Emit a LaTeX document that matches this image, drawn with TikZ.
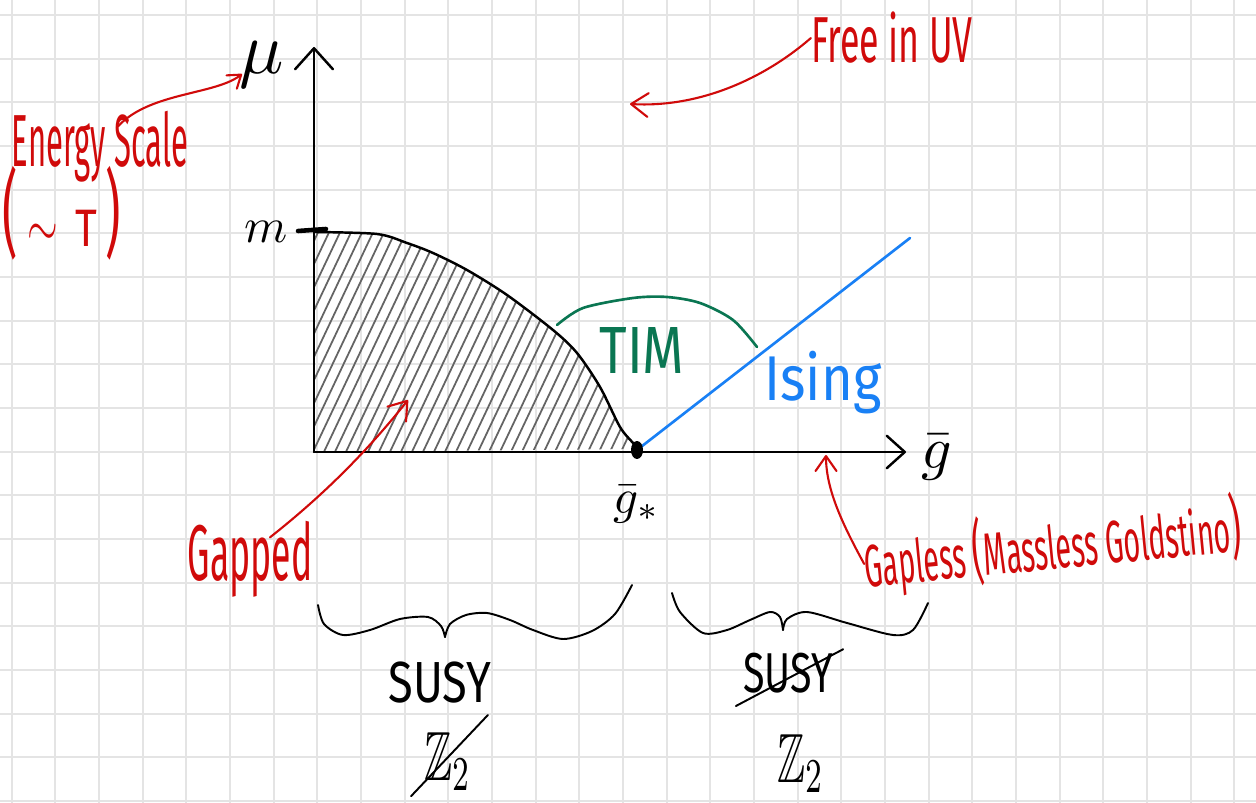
\documentclass[tikz,border=0pt]{standalone}
\usepackage{amssymb}
\usepackage{graphicx}
\usepackage{fontspec}
\newfontfamily\handfont{Fira Sans}
\usetikzlibrary{arrows.meta,positioning}
\definecolor{penred}{RGB}{208,10,10}
\definecolor{pengreen}{RGB}{10,118,82}
\definecolor{penblue}{RGB}{25,128,245}
\definecolor{gridgray}{RGB}{228,228,228}
\definecolor{hatchgray}{RGB}{100,100,100}
\newcommand\handw[2]{\scalebox{#1}[1]{#2}}

\begin{document}
\begin{tikzpicture}[x=0.02cm,y=-0.02cm,
  gridline/.style={gridgray, line width=1.1pt},
  ink/.style={line width=1.4pt, line cap=round, line join=round},
  thinink/.style={line width=1.1pt, line cap=round, line join=round},
  hatch/.style={hatchgray, line width=1pt, line cap=round},
  pen/.style={penred, line width=1.2pt, line cap=round, line join=round},
  hand/.style={font=\handfont\fontsize{#1}{#1}\selectfont, inner sep=0pt, anchor=base},
  symb/.style={inner sep=0pt, anchor=base},
  axisarr/.style={-{Straight Barb[length=#1,width=1.8*#1,round]}},
  penarr/.style={-{Straight Barb[length=#1,width=1.4*#1,round]}}
]
\fill[white] (0,0) rectangle (1256,803);
\useasboundingbox (0,0) rectangle (1256,803);
% squared paper
\foreach \k in {0,...,28} \draw[gridline] ({11.7+43.66*\k},0) -- ({11.7+43.66*\k},803);
\foreach \k in {0,...,18} \draw[gridline] (0,{15+43.66*\k}) -- (1256,{15+43.66*\k});

\coordinate (O) at (314,452);
\coordinate (ytop) at (314,47);
\coordinate (xend) at (906,452);
\coordinate (gs) at (637,450);
\coordinate (isingend) at (910,238);
\coordinate (uvtip) at (630,104);
\coordinate (entip) at (242,74);
\coordinate (gaptip) at (408,400);
\coordinate (gltip) at (826,455);

% gapped region
\begin{scope}
\clip (O) -- (314,232) -- plot[smooth] coordinates {(314,232) (377,234) (407,243) (433,253) (467,270) (507,295) (553,330) (577,353) (600,387) (620,427) (633,443) (637,449)} -- cycle;
\foreach \s in {190,201,...,640} \draw[hatch] (\s,456) -- ++(110,-232);
\end{scope}
\draw[ink] plot[smooth] coordinates {(314,232) (377,234) (407,243) (433,253) (467,270) (507,295) (553,330) (577,353) (600,387) (620,427) (633,443) (637,449)};

% axes
\draw[ink,axisarr=0.42cm] (O) -- (ytop);
\draw[ink,axisarr=0.36cm] (O) -- (xend);
\draw[ink,line width=2.6pt] (298,231) -- (326,229);
\node[symb] (mulab) at (262,74) {\scalebox{4.2}{$\mu$}};
\node[symb] (mlab) at (266,243) {\scalebox{2.8}{$m$}};
\node[symb] (gbar) at (937,468) {\scalebox{3.4}{$\bar g$}};

% TIM and Ising
\draw[pengreen,line width=1.5pt,line cap=round] plot[smooth] coordinates {(557,325) (583,308) (633,298) (667,297) (700,303) (733,320) (757,347)};
\node[hand=38,text=pengreen] (tim) at (642,374) {\handw{0.8}{TIM}};
\draw[penblue,line width=1.5pt,line cap=round] (gs) -- (isingend);
\node[hand=36,text=penblue] (ising) at (823,400) {\handw{0.86}{Ising}};
\fill (gs) ellipse [x radius=0.12cm, y radius=0.18cm];
\node[symb,below=0.7cm of gs] (gstar) {\scalebox{2.8}{$\bar g_*$}};

% red notes
\node[hand=37,text=penred] (freeuv) at (892,63) {\handw{0.55}{Free in UV}};
\node[hand=42,text=penred] (energy) at (100,167) {\handw{0.42}{Energy Scale}};
\node[hand=30,text=penred] (temp) at (62,247) {{\fontsize{54}{54}\selectfont\handw{0.5}{(}}\,\scalebox{0.9}[1.4]{$\sim$}\,\,\handw{0.8}{T}\,{\fontsize{54}{54}\selectfont\handw{0.5}{)}}};
\node[hand=45,text=penred] (gapped) at (250,580) {\handw{0.45}{Gapped}};
\node[hand=34,text=penred,rotate=5.5] (gapless) at (1055,569) {\handw{0.48}{Gapless {\fontsize{40}{40}\selectfont(}Massless Goldstino{\fontsize{40}{40}\selectfont)}}};
\draw[pen,penarr=0.34cm] (freeuv.west) .. controls (765,78) and (700,108) .. (uvtip);
\draw[pen,penarr=0.24cm] ([xshift=0.36cm,yshift=-0.3cm]energy.north) .. controls (150,92) and (215,95) .. (entip);
\draw[pen,penarr=0.34cm] ([xshift=0.4cm,yshift=-0.34cm]gapped.north) .. controls (330,490) and (372,445) .. (gaptip);
\draw[pen,penarr=0.3cm] (gapless.west) .. controls (843,525) and (826,490) .. (gltip);

% braces and symmetries
\draw[thinink] plot[smooth] coordinates {(318,605) (324,624) (343,635) (370,630) (400,619) (428,617) (441,626) (445,637)};
\draw[thinink] plot[smooth] coordinates {(445,637) (450,624) (466,615) (487,613) (510,620) (533,630) (563,639) (592,631) (615,614) (632,585)};
\draw[thinink] plot[smooth] coordinates {(672,593) (680,612) (703,633) (727,630) (750,620) (770,612) (780,617) (783,630)};
\draw[thinink] plot[smooth] coordinates {(783,630) (787,619) (807,612) (847,623) (893,635) (913,630) (928,603)};
\node[hand=33] (susyL) at (440,702) {\handw{0.78}{SUSY}};
\node[hand=32] (susyR) at (788,692) {\handw{0.7}{SUSY}};
\node[symb,below=0.58cm of susyL,xshift=0.16cm] (zL) {\scalebox{2.4}[3.96]{$\mathbb{Z}_2$}};
\node[symb,below=0.82cm of susyR,xshift=0.26cm] (zR) {\scalebox{2.4}[3.96]{$\mathbb{Z}_2$}};
\draw[thinink] ([xshift=-0.26cm,yshift=-0.1cm]zL.south west) -- ([xshift=0.32cm,yshift=0.34cm]zL.north east);
\draw[thinink] ([xshift=-0.14cm,yshift=-0.26cm]susyR.south west) -- ([xshift=0.2cm,yshift=0.06cm]susyR.north east);
\end{tikzpicture}
\end{document}
